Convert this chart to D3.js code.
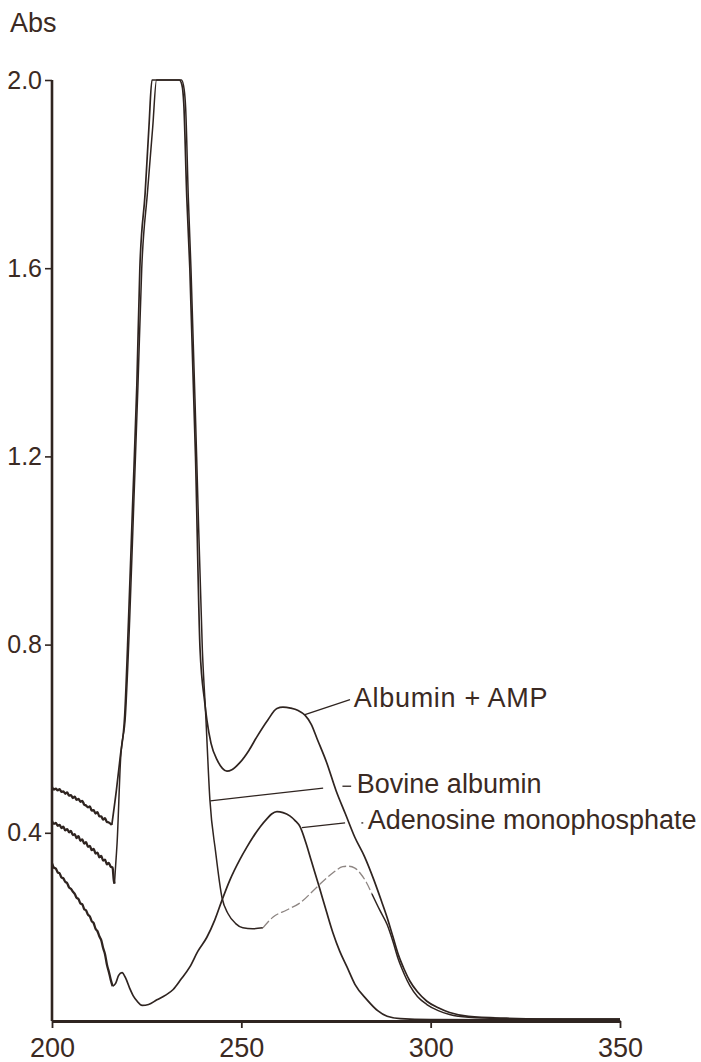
<!DOCTYPE html>
<html>
<head>
<meta charset="utf-8">
<script src="https://cdn.jsdelivr.net/npm/d3@7"></script>
<style>
    body { margin: 0; background: #ffffff; }
    svg { display: block; }
    .tick text, .label-text, .axis-title { font-family: "Liberation Sans", Arial, sans-serif; fill: #3b2a23; }
</style>
</head>
<body>
<div id="chart"></div>
<script>
    "use strict";

    // tick labels of both axes
    const xTicks = [200, 250, 300, 350];
    const yTicks = [0.4, 0.8, 1.2, 1.6, 2.0];

    // wavelength (nm), absorbance
    const albuminAmp = [
        [200, 0.497], [200.5, 0.492], [201, 0.494], [201.5, 0.49], [202, 0.493], [202.5, 0.487], [203, 0.488],
        [203.5, 0.483], [204, 0.486], [204.5, 0.479], [205, 0.48], [205.5, 0.474], [206, 0.477], [206.5, 0.47],
        [207, 0.472], [207.5, 0.466], [208, 0.468], [208.5, 0.46], [209, 0.458], [209.5, 0.454], [210, 0.456],
        [210.5, 0.447], [211, 0.448], [211.5, 0.441], [212, 0.444], [212.5, 0.435], [213, 0.435], [213.5, 0.428],
        [214, 0.431], [214.5, 0.423], [215, 0.422], [215.8, 0.417], [217, 0.49], [218, 0.56], [219.2, 0.65],
        [220.2, 0.85], [221.3, 1.1], [222.4, 1.35], [223.2, 1.6], [224.6, 1.76], [225.6, 1.9], [226.4, 2.0],
        [233.6, 2.0], [234.3, 1.99], [234.8, 1.95], [235.6, 1.75], [236.4, 1.6], [237.9, 1.2], [239.1, 0.79],
        [240.3, 0.68], [240.9, 0.64], [242, 0.59], [243.6, 0.555], [245, 0.537], [246.2, 0.531], [247.5, 0.534],
        [249.6, 0.549], [252, 0.575], [254.1, 0.604], [257, 0.64], [259.4, 0.664], [261, 0.667], [263, 0.665],
        [265, 0.66], [266.8, 0.65], [268.5, 0.63], [270, 0.6], [272.5, 0.55], [275, 0.49], [277.5, 0.44],
        [280, 0.39], [282.5, 0.35], [285, 0.3], [287, 0.255], [288.5, 0.22], [290, 0.18], [291.5, 0.14],
        [293, 0.11], [294.5, 0.085], [296.5, 0.062], [299, 0.042], [302, 0.028], [305, 0.018], [310, 0.01],
        [320, 0.006], [335, 0.004], [350, 0.004]
    ];

    const bovineAlbumin = [
        [200, 0.425], [200.5, 0.419], [201, 0.421], [201.5, 0.415], [202, 0.417], [202.5, 0.41], [203, 0.413],
        [203.5, 0.405], [204, 0.408], [204.5, 0.401], [205, 0.404], [205.5, 0.395], [206, 0.397], [206.5, 0.389],
        [207, 0.393], [207.5, 0.383], [208, 0.386], [208.5, 0.377], [209, 0.38], [209.5, 0.37], [210, 0.372],
        [210.5, 0.363], [211, 0.366], [211.5, 0.356], [212, 0.358], [212.5, 0.348], [213, 0.351], [213.5, 0.341],
        [214, 0.343], [214.5, 0.333], [215, 0.336], [215.5, 0.328], [216, 0.326], [216.3, 0.3], [216.5, 0.292],
        [216.8, 0.33], [217.2, 0.38], [218.1, 0.555], [219.4, 0.65], [220.5, 0.85], [221.6, 1.1], [222.7, 1.35],
        [223.7, 1.6], [225.2, 1.76], [226.6, 1.9], [227.6, 2.0], [234.2, 2.0], [234.9, 1.98], [235.3, 1.94],
        [236, 1.75], [236.7, 1.6], [238.2, 1.2], [239.7, 0.79], [240.6, 0.65], [241.7, 0.47], [243.2, 0.36],
        [244.9, 0.262], [246.5, 0.228], [248.5, 0.207], [250.4, 0.198], [253, 0.196], [255.7, 0.198],
        [258.4, 0.221], [262, 0.236], [265.5, 0.251], [270, 0.285], [274.2, 0.315], [276.8, 0.328],
        [278.2, 0.329], [280, 0.325], [281.5, 0.313], [283, 0.295], [284.5, 0.27], [286.6, 0.235], [288.5, 0.205],
        [290, 0.17], [291.5, 0.13], [293, 0.1], [294.5, 0.075], [296.5, 0.052], [299, 0.035], [302, 0.022],
        [305, 0.014], [310, 0.008], [320, 0.005], [335, 0.004], [350, 0.004]
    ];

    const adenosineMp = [
        [200, 0.335], [200.5, 0.326], [201, 0.324], [201.5, 0.316], [202, 0.314], [202.5, 0.305], [203, 0.303],
        [203.5, 0.296], [204, 0.293], [204.5, 0.284], [205, 0.281], [205.5, 0.275], [206, 0.27], [206.5, 0.262],
        [207, 0.259], [207.5, 0.25], [208, 0.248], [208.5, 0.238], [209, 0.235], [209.5, 0.226], [210, 0.222],
        [210.5, 0.212], [211, 0.208], [211.5, 0.196], [212, 0.191], [212.5, 0.18], [213, 0.172], [213.5, 0.155],
        [214, 0.142], [214.5, 0.12], [215, 0.105], [215.5, 0.088], [216, 0.074], [216.8, 0.08], [217.6, 0.097],
        [218.5, 0.103], [219.4, 0.092], [220.5, 0.07], [221.5, 0.053], [222.5, 0.042], [223.8, 0.033],
        [225.5, 0.035], [227.7, 0.045], [230, 0.055], [232, 0.067], [234, 0.088], [236.4, 0.115], [238.5, 0.148],
        [240.9, 0.178], [243, 0.215], [244.9, 0.257], [247, 0.3], [249.6, 0.343], [251.5, 0.37], [253.1, 0.391],
        [255, 0.413], [256.8, 0.43], [258, 0.44], [259.4, 0.445], [261, 0.443], [262.8, 0.436], [264.2, 0.426],
        [265.5, 0.413], [267, 0.38], [268.5, 0.34], [270.5, 0.287], [272.5, 0.232], [274.2, 0.187], [276, 0.148],
        [277.9, 0.115], [280, 0.078], [283.2, 0.045], [286, 0.022], [288.5, 0.01], [292, 0.005], [300, 0.003],
        [350, 0.002]
    ];

    // curve labels with their leader lines (data units)
    const labels = [
        { text: "Albumin + AMP", at: [279.7, 0.668], leaders: [[[266.8, 0.651], [278.7, 0.683]]] },
        { text: "Bovine albumin", at: [280.5, 0.485], leaders: [[[241.8, 0.468], [271.6, 0.495]], [[276.7, 0.499], [279.0, 0.499]]] },
        { text: "Adenosine monophosphate", at: [283.4, 0.4085], leaders: [[[266.0, 0.411], [277.4, 0.421]], [[281.7, 0.421], [282.2, 0.421]]] }
    ];

    const width = 701;
    const height = 1062;
    const ink = "#2f2420";

    const svg = d3.select("#chart").append("svg").attr("width", width).attr("height", height);

    const x = d3.scaleLinear().domain([200, 350]).range([52, 620]);
    const y = d3.scaleLinear().domain([0, 2]).range([1021, 80]);

    const line = d3
        .line()
        .x((d) => x(d[0]))
        .y((d) => y(d[1]))
        .curve(d3.curveMonotoneX);

    /**
     * Draws a piece of a spectrum between two wavelengths
     */
    let drawPart = (data, from, to, stroke, strokeWidth, dash) => {
        svg.append("path")
            .datum(data.filter((d) => d[0] >= from && d[0] <= to))
            .attr("d", line)
            .attr("fill", "none")
            .attr("stroke", stroke)
            .attr("stroke-width", strokeWidth)
            .attr("stroke-linejoin", "round")
            .attr("stroke-dasharray", dash || null);
    };

    // noisy short-wavelength region is printed heavier
    drawPart(adenosineMp, 200, 216, ink, 2.3);
    drawPart(adenosineMp, 216, 350, ink, 1.7);
    drawPart(albuminAmp, 200, 215.8, ink, 2.3);
    drawPart(albuminAmp, 215.8, 350, ink, 1.7);
    drawPart(bovineAlbumin, 200, 216.5, ink, 2.3);
    drawPart(bovineAlbumin, 216.5, 255.7, ink, 1.5);
    // the rising shoulder of the albumin trace is faint in the original print
    drawPart(bovineAlbumin, 255.7, 284.5, "#8d8582", 1.3, "9,3");
    drawPart(bovineAlbumin, 284.5, 350, ink, 1.5);

    // axes
    const yAxis = svg.append("g").attr("transform", `translate(${x(200)},0)`)
        .call(d3.axisLeft(y).tickValues(yTicks).tickFormat(d3.format(".1f")).tickSize(7).tickSizeOuter(0).tickPadding(3));
    yAxis.select(".domain").attr("stroke", ink).attr("stroke-width", 2.6).attr("d", `M0,${y(2)}V${y(0)}`);
    yAxis.selectAll(".tick line").attr("stroke", ink).attr("stroke-width", 1.6);
    yAxis.selectAll(".tick text").attr("font-size", 25);

    const xAxis = svg.append("g").attr("transform", `translate(0,${y(0)})`)
        .call(d3.axisBottom(x).tickValues(xTicks).tickSize(7).tickSizeOuter(0).tickPadding(10));
    xAxis.select(".domain").attr("stroke", ink).attr("stroke-width", 3);
    xAxis.selectAll(".tick line").attr("stroke", ink).attr("stroke-width", 1.8);
    xAxis.selectAll(".tick text").attr("font-size", 27);

    svg.append("text").attr("class", "axis-title").attr("x", 10).attr("y", 32).attr("font-size", 27).text("Abs");

    // labels and leader lines
    labels.forEach((l) => {
        l.leaders.forEach((seg) => {
            svg.append("line")
                .attr("x1", x(seg[0][0])).attr("y1", y(seg[0][1]))
                .attr("x2", x(seg[1][0])).attr("y2", y(seg[1][1]))
                .attr("stroke", ink).attr("stroke-width", 1.3);
        });
        svg.append("text").attr("class", "label-text")
            .attr("x", x(l.at[0])).attr("y", y(l.at[1]))
            .attr("font-size", 27)
            .attr("letter-spacing", l.text.indexOf("+") >= 0 ? 0.7 : 0)
            .text(l.text);
    });
</script>
</body>
</html>
